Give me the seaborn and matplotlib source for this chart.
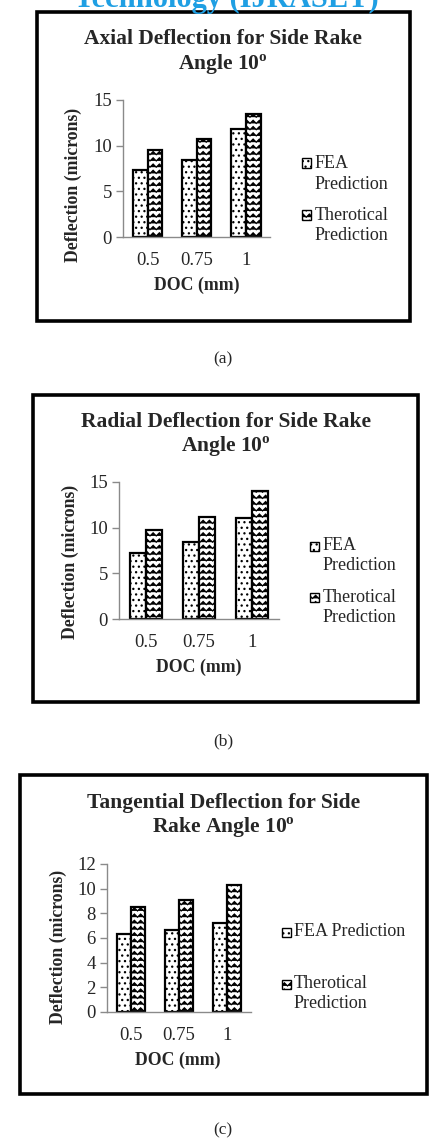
import warnings
warnings.filterwarnings("ignore")
import numpy as np
import pandas as pd
import matplotlib
matplotlib.use("Agg")
import matplotlib.pyplot as plt
import matplotlib.hatch as mhatch
from matplotlib.path import Path
from matplotlib.patches import Rectangle
import seaborn as sns

# ---------------- data ----------------
doc_labels = ["0.5", "0.75", "1"]
series_names = ["FEA Prediction", "Therotical Prediction"]
axial_fea = [7.3, 8.4, 11.8]
axial_theo = [9.5, 10.7, 13.5]
radial_fea = [7.2, 8.45, 11.1]
radial_theo = [9.75, 11.15, 14.0]
tang_fea = [6.3, 6.65, 7.2]
tang_theo = [8.5, 9.1, 10.3]
yticks_ab = [0, 5, 10, 15]
yticks_c = [0, 2, 4, 6, 8, 10, 12]
titles = [("Axial Deflection for Side Rake", "Angle 10$^{\\mathregular{o}}$"),
          ("Radial Deflection for Side Rake", "Angle 10$^{\\mathregular{o}}$"),
          ("Tangential Deflection for Side", "Rake Angle 10$^{\\mathregular{o}}$")]
captions = ["(a)", "(b)", "(c)"]
y_label = "Deflection (microns)"
x_label = "DOC (mm)"
header = "Technology (IJRASET)"


# ---------------- custom zigzag hatch ----------------
class ZigZagHatch(mhatch.HatchPatternBase):
    def __init__(self, hatch, density):
        self.num_rows = int(hatch.count('z') * density * 4 / 3)
        self.periods = self.num_rows
        self.pts = 2 * self.periods + 1
        self.num_vertices = self.num_rows * self.pts if self.num_rows else 0

    def set_vertices_and_codes(self, vertices, codes):
        if self.num_rows == 0:
            return
        step = 1.0 / self.num_rows
        xs = np.linspace(0, 1, self.pts)
        offs = np.zeros(self.pts)
        offs[1::2] = 0.5 * step
        for i in range(self.num_rows):
            y0 = (i + 0.25) * step
            s = i * self.pts
            vertices[s:s + self.pts, 0] = xs
            vertices[s:s + self.pts, 1] = y0 + offs
            codes[s:s + self.pts] = Path.LINETO
            codes[s] = Path.MOVETO


mhatch._hatch_types.append(ZigZagHatch)

sns.set_style("white")
plt.rcParams['font.family'] = ['Liberation Serif', 'DejaVu Serif']
plt.rcParams['hatch.linewidth'] = 0.9

W, H = 430, 1140
fig = plt.figure(figsize=(W / 100, H / 100), dpi=100)


def fx(x):
    return x / W


def fy(y):
    return 1 - y / H


hatches = ["...", "zz"]
GRAY = "#8a8a8a"

panels = [
    dict(fea=axial_fea, theo=axial_theo, ymax=15, yticks=yticks_ab,
         box=(37, 12, 410, 321), ax=(123, 270.5, 100, 237),
         title_x=223, title_y=(39, 65), ylab=(73, 185), xlab=(197, 285),
         leg_sq=302, leg_tx=315, leg_lines=[(163, "FEA"), (184, "Prediction"), (215, "Therotical"), (235, "Prediction")],
         leg_sq_y=(163, 215), cap=(223, 359)),
    dict(fea=radial_fea, theo=radial_theo, ymax=15, yticks=yticks_ab,
         box=(33, 395, 418, 702), ax=(119, 278.5, 482, 619),
         title_x=226, title_y=(422, 447), ylab=(70, 562), xlab=(199, 667),
         leg_sq=310, leg_tx=323, leg_lines=[(546, "FEA"), (566, "Prediction"), (597, "Therotical"), (617, "Prediction")],
         leg_sq_y=(546, 597), cap=(223, 741)),
    dict(fea=tang_fea, theo=tang_theo, ymax=12, yticks=yticks_c,
         box=(20, 775, 427, 1094), ax=(107, 251, 864, 1012),
         title_x=223.5, title_y=(803, 828), ylab=(58, 947), xlab=(178, 1060),
         leg_sq=282, leg_tx=294, leg_lines=[(932, "FEA Prediction"), (984, "Therotical"), (1004, "Prediction")],
         leg_sq_y=(932, 984), cap=(223, 1130)),
]

fig.text(fx(226), fy(7), header, ha="center", va="baseline", fontsize=22,
         fontweight="bold", color="#1f9fe3")

for p, (t1, t2), cap in zip(panels, titles, captions):
    bx0, by0, bx1, by1 = p["box"]
    fig.add_artist(Rectangle((fx(bx0), fy(by1)), (bx1 - bx0) / W, (by1 - by0) / H,
                             transform=fig.transFigure, facecolor="none",
                             edgecolor="black", linewidth=2.6))
    l, r, t, b = p["ax"]
    ax = fig.add_axes([fx(l), fy(b), (r - l) / W, (b - t) / H])
    df = pd.DataFrame({
        "DOC": doc_labels * 2,
        "Series": [series_names[0]] * 3 + [series_names[1]] * 3,
        "Deflection": list(p["fea"]) + list(p["theo"]),
    })
    sns.barplot(data=df, x="DOC", y="Deflection", hue="Series", order=doc_labels,
                hue_order=series_names, palette=["white", "white"], saturation=1,
                width=0.6, edgecolor="black", linewidth=1.6, errorbar=None,
                legend=False, ax=ax)
    for cont, h in zip(ax.containers, hatches):
        for bar in cont:
            bar.set_hatch(h)
    ax.set_xlim(-0.5, 2.5)
    ax.set_ylim(0, p["ymax"])
    ax.set_yticks(p["yticks"])
    ax.set_xlabel("")
    ax.set_ylabel("")
    ax.patch.set_alpha(0)
    for s in ["top", "right"]:
        ax.spines[s].set_visible(False)
    for s in ["left", "bottom"]:
        ax.spines[s].set_color(GRAY)
        ax.spines[s].set_linewidth(1.0)
    ax.tick_params(axis="y", length=5, width=1, color=GRAY, pad=3, labelsize=13.5, direction="out", left=True)
    ax.tick_params(axis="x", length=0, pad=11, labelsize=13.5)

    fig.text(fx(p["title_x"]), fy(p["title_y"][0]), t1, ha="center", va="center",
             fontsize=15.5, fontweight="bold")
    fig.text(fx(p["title_x"]), fy(p["title_y"][1]), t2, ha="center", va="center",
             fontsize=15.5, fontweight="bold")
    fig.text(fx(p["ylab"][0]), fy(p["ylab"][1]), y_label, ha="center", va="center",
             rotation=90, fontsize=12.8, fontweight="bold")
    fig.text(fx(p["xlab"][0]), fy(p["xlab"][1]), x_label, ha="center", va="center",
             fontsize=12.8, fontweight="bold")
    for (yy, txt) in p["leg_lines"]:
        fig.text(fx(p["leg_tx"]), fy(yy), txt, ha="left", va="center", fontsize=13)
    for yy, h in zip(p["leg_sq_y"], hatches):
        fig.add_artist(Rectangle((fx(p["leg_sq"]), fy(yy + 4.5)), 9 / W, 9 / H,
                                 transform=fig.transFigure, facecolor="white",
                                 edgecolor="black", linewidth=1.0, hatch=h))
    fig.text(fx(p["cap"][0]), fy(p["cap"][1]), cap, ha="center", va="center", fontsize=12.5)

fig.savefig("out.png", dpi=100)
